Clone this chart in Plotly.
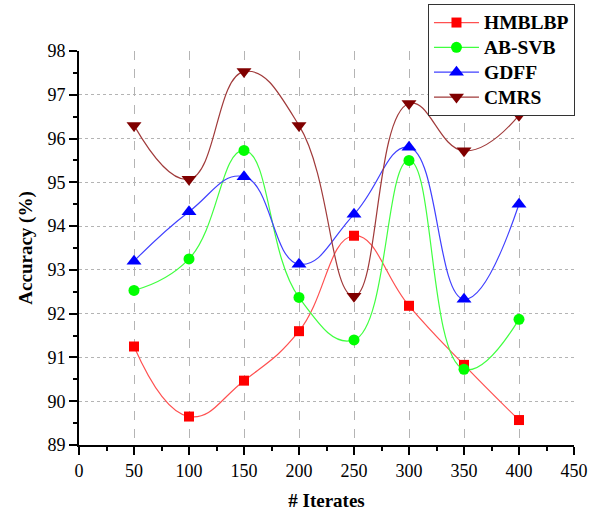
import plotly.graph_objects as go

iterates = [50, 100, 150, 200, 250, 300, 350, 400]
hmblbp = [91.25, 89.65, 90.47, 91.60, 93.78, 92.18, 90.83, 89.57]
ab_svb = [92.53, 93.25, 95.73, 92.37, 91.40, 95.50, 90.73, 91.87]
gdff = [93.20, 94.33, 95.13, 93.13, 94.27, 95.80, 92.33, 94.50]
cmrs = [96.30, 95.07, 97.53, 96.30, 92.40, 96.80, 95.72, 96.53]

series = [
    ("HMBLBP", hmblbp, "#ff0000", "#ff5050", "square", 10),
    ("AB-SVB", ab_svb, "#00ff00", "#40ff40", "circle", 11),
    ("GDFF", gdff, "#0000ff", "#4040ff", "triangle-up", 13),
    ("CMRS", cmrs, "#800000", "#a03a3a", "triangle-down", 13),
]

fig = go.Figure()
for name, vals, mcol, lcol, sym, sz in series:
    fig.add_trace(go.Scatter(
        x=iterates, y=vals, name='<span style="font-size:19.5px">%s</span>' % name,
        mode="lines+markers",
        line=dict(color=lcol, width=1.2, shape="spline", smoothing=1.3),
        marker=dict(color=mcol, symbol=sym, size=sz, line=dict(width=0)),
    ))

font_family = "Liberation Serif"
fig.update_layout(
    width=602, height=515,
    margin=dict(l=79, r=28, t=51, b=70, autoexpand=False),
    paper_bgcolor="white", plot_bgcolor="white",
    font=dict(family=font_family, size=18, color="black"),
    legend=dict(
        x=0.705, y=1.119, xanchor="left", yanchor="top",
        bordercolor="#333333", borderwidth=1, bgcolor="white",
        font=dict(family=font_family, size=16.8, color="black", weight="bold"),
        itemwidth=45, tracegroupgap=0,
    ),
    showlegend=True,
)
fig.update_xaxes(
    range=[0, 450], dtick=50, tick0=0, automargin=False,
    showline=True, linecolor="black", linewidth=2,
    ticks="outside", ticklen=8, tickwidth=1.5, tickcolor="black",
    minor=dict(ticks="outside", dtick=25, ticklen=4, tickwidth=1.5, tickcolor="black", showgrid=False),
    showgrid=True, gridcolor="#b4b4b4", gridwidth=1, griddash="dash",
    zeroline=False,
    tickfont=dict(family=font_family, size=18),
    title=dict(text="# Iterates", font=dict(family=font_family, size=19, weight="bold"), standoff=14),
)
fig.update_yaxes(
    range=[89, 98], dtick=1, tick0=89, automargin=False,
    showline=True, linecolor="black", linewidth=2,
    ticks="outside", ticklen=8, tickwidth=1.5, tickcolor="black",
    minor=dict(ticks="outside", dtick=0.5, ticklen=4, tickwidth=1.5, tickcolor="black", showgrid=False),
    showgrid=True, gridcolor="#b4b4b4", gridwidth=1, griddash="dot",
    zeroline=False,
    tickfont=dict(family=font_family, size=18),
    title=dict(text="Accuracy (%)", font=dict(family=font_family, size=19, weight="bold"), standoff=10),
)
fig.write_html("out.html")
